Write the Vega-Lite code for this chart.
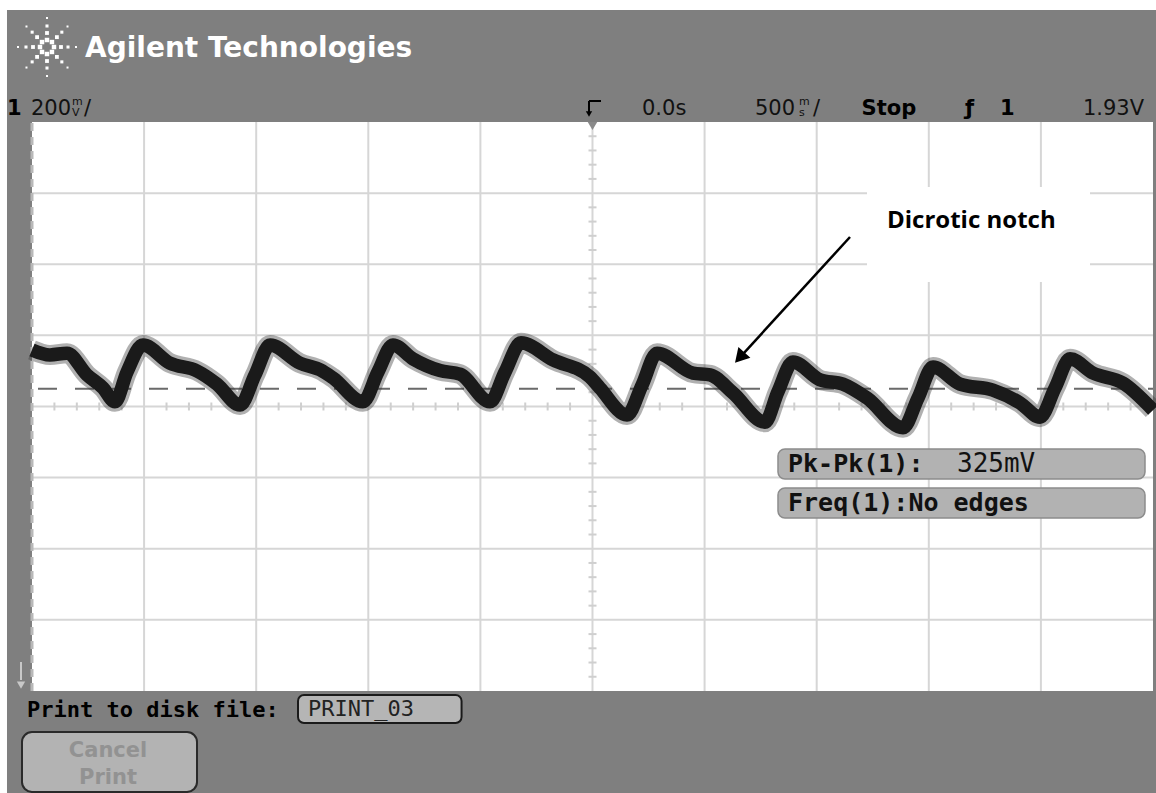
{
  "$schema": "https://vega.github.io/schema/vega-lite/v6.json",
  "width": 1156,
  "height": 793,
  "autosize": {"type": "none"},
  "padding": 0,
  "background": "#ffffff",
  "config": {"view": {"stroke": null}},
  "datasets": {
    "frame": [{"t": -2.6115, "t2": 2.5134, "v": 0.7931, "v2": 2.995}],
    "plot": [{"t": -2.5, "t2": 2.5, "v": 1.08, "v2": 2.68}],
    "gridT": [{"t": -2, "v": 1.08, "v2": 2.68}, {"t": -1.5, "v": 1.08, "v2": 2.68}, {"t": -1, "v": 1.08, "v2": 2.68}, {"t": -0.5, "v": 1.08, "v2": 2.68}, {"t": 0, "v": 1.08, "v2": 2.68}, {"t": 0.5, "v": 1.08, "v2": 2.68}, {"t": 1, "v": 1.08, "v2": 2.68}, {"t": 1.5, "v": 1.08, "v2": 2.68}, {"t": 2, "v": 1.08, "v2": 2.68}],
    "gridV": [{"t": -2.5, "t2": 2.5, "v": 1.28}, {"t": -2.5, "t2": 2.5, "v": 1.48}, {"t": -2.5, "t2": 2.5, "v": 1.68}, {"t": -2.5, "t2": 2.5, "v": 1.88}, {"t": -2.5, "t2": 2.5, "v": 2.08}, {"t": -2.5, "t2": 2.5, "v": 2.28}, {"t": -2.5, "t2": 2.5, "v": 2.48}],
    "hTicks": [{"t": -2.4, "v": 1.88}, {"t": -2.3, "v": 1.88}, {"t": -2.2, "v": 1.88}, {"t": -2.1, "v": 1.88}, {"t": -1.9, "v": 1.88}, {"t": -1.8, "v": 1.88}, {"t": -1.7, "v": 1.88}, {"t": -1.6, "v": 1.88}, {"t": -1.4, "v": 1.88}, {"t": -1.3, "v": 1.88}, {"t": -1.2, "v": 1.88}, {"t": -1.1, "v": 1.88}, {"t": -0.9, "v": 1.88}, {"t": -0.8, "v": 1.88}, {"t": -0.7, "v": 1.88}, {"t": -0.6, "v": 1.88}, {"t": -0.4, "v": 1.88}, {"t": -0.3, "v": 1.88}, {"t": -0.2, "v": 1.88}, {"t": -0.1, "v": 1.88}, {"t": 0.1, "v": 1.88}, {"t": 0.2, "v": 1.88}, {"t": 0.3, "v": 1.88}, {"t": 0.4, "v": 1.88}, {"t": 0.6, "v": 1.88}, {"t": 0.7, "v": 1.88}, {"t": 0.8, "v": 1.88}, {"t": 0.9, "v": 1.88}, {"t": 1.1, "v": 1.88}, {"t": 1.2, "v": 1.88}, {"t": 1.3, "v": 1.88}, {"t": 1.4, "v": 1.88}, {"t": 1.6, "v": 1.88}, {"t": 1.7, "v": 1.88}, {"t": 1.8, "v": 1.88}, {"t": 1.9, "v": 1.88}, {"t": 2.1, "v": 1.88}, {"t": 2.2, "v": 1.88}, {"t": 2.3, "v": 1.88}, {"t": 2.4, "v": 1.88}],
    "vTicks": [{"t": 0, "v": 1.12}, {"t": 0, "v": 1.16}, {"t": 0, "v": 1.2}, {"t": 0, "v": 1.24}, {"t": 0, "v": 1.32}, {"t": 0, "v": 1.36}, {"t": 0, "v": 1.4}, {"t": 0, "v": 1.44}, {"t": 0, "v": 1.52}, {"t": 0, "v": 1.56}, {"t": 0, "v": 1.6}, {"t": 0, "v": 1.64}, {"t": 0, "v": 1.72}, {"t": 0, "v": 1.76}, {"t": 0, "v": 1.8}, {"t": 0, "v": 1.84}, {"t": 0, "v": 1.92}, {"t": 0, "v": 1.96}, {"t": 0, "v": 2.0}, {"t": 0, "v": 2.04}, {"t": 0, "v": 2.12}, {"t": 0, "v": 2.16}, {"t": 0, "v": 2.2}, {"t": 0, "v": 2.24}, {"t": 0, "v": 2.32}, {"t": 0, "v": 2.36}, {"t": 0, "v": 2.4}, {"t": 0, "v": 2.44}, {"t": 0, "v": 2.52}, {"t": 0, "v": 2.56}, {"t": 0, "v": 2.6}, {"t": 0, "v": 2.64}],
    "leftEdge": [{"t": -2.5, "v": 1.08, "v2": 2.68}],
    "notchBox": [{"t": 1.2244, "t2": 2.219, "v": 2.2301, "v2": 2.4972}],
    "trigLevel": [{"t": -2.5, "t2": 2.5, "v": 1.93}],
    "trace": [
      {"t": -2.5, "v": 2.039}, {"t": -2.42, "v": 2.025}, {"t": -2.344, "v": 2.03}, {"t": -2.255, "v": 1.969}, {"t": -2.183, "v": 1.932}, {"t": -2.13, "v": 1.893}, {"t": -2.076, "v": 1.977}, {"t": -2.005, "v": 2.053},
      {"t": -1.885, "v": 2.002}, {"t": -1.764, "v": 1.98}, {"t": -1.675, "v": 1.943}, {"t": -1.572, "v": 1.884}, {"t": -1.505, "v": 1.969}, {"t": -1.438, "v": 2.053},
      {"t": -1.305, "v": 2.002}, {"t": -1.215, "v": 1.983}, {"t": -1.157, "v": 1.96}, {"t": -1.024, "v": 1.893}, {"t": -0.957, "v": 1.977}, {"t": -0.89, "v": 2.053},
      {"t": -0.801, "v": 2.014}, {"t": -0.68, "v": 1.981}, {"t": -0.591, "v": 1.971}, {"t": -0.457, "v": 1.893}, {"t": -0.39, "v": 1.977}, {"t": -0.319, "v": 2.059},
      {"t": -0.176, "v": 2.011}, {"t": -0.011, "v": 1.963}, {"t": 0.033, "v": 1.932}, {"t": 0.154, "v": 1.856}, {"t": 0.221, "v": 1.94}, {"t": 0.288, "v": 2.03},
      {"t": 0.448, "v": 1.974}, {"t": 0.524, "v": 1.969}, {"t": 0.627, "v": 1.918}, {"t": 0.769, "v": 1.836}, {"t": 0.827, "v": 1.921}, {"t": 0.894, "v": 2.005},
      {"t": 1.015, "v": 1.955}, {"t": 1.117, "v": 1.943}, {"t": 1.224, "v": 1.904}, {"t": 1.385, "v": 1.82}, {"t": 1.452, "v": 1.904}, {"t": 1.519, "v": 1.991},
      {"t": 1.639, "v": 1.943}, {"t": 1.786, "v": 1.926}, {"t": 1.907, "v": 1.89}, {"t": 1.996, "v": 1.85}, {"t": 2.063, "v": 1.932}, {"t": 2.13, "v": 2.014},
      {"t": 2.232, "v": 1.974}, {"t": 2.366, "v": 1.946}, {"t": 2.5, "v": 1.87}
    ],
    "measBoxes": [{"t": 0.8274, "t2": 2.4643, "v": 1.6761, "v2": 1.7605}, {"t": 0.8274, "t2": 2.4643, "v": 1.5664, "v2": 1.6508}],
    "measBold": [{"label": "Pk-Pk(1):", "t": 0.872, "v": 1.6958}, {"label": "Freq(1):No edges", "t": 0.872, "v": 1.5861}],
    "measReg": [{"label": "325mV", "t": 1.6258, "v": 1.6958}],
    "arrowLine": [{"t": 1.1486, "v": 2.3566, "t2": 0.6566, "v2": 2.0175}],
    "arrowHead": [{"t": 0.6566, "v": 2.0175}],
    "note": [{"label": "Dicrotic notch", "t": 1.3136, "v": 2.3819}],
    "brand": [{"label": "Agilent Technologies", "t": -2.2636, "v": 2.8628}],
    "spark": [
      {"t": -2.4019, "v": 2.8909, "ring": 1}, {"t": -2.4643, "v": 2.8909, "ring": 1}, {"t": -2.4331, "v": 2.9106, "ring": 1}, {"t": -2.4331, "v": 2.8712, "ring": 1},
      {"t": -2.411, "v": 2.9048, "ring": 1}, {"t": -2.4552, "v": 2.9048, "ring": 1}, {"t": -2.411, "v": 2.877, "ring": 1}, {"t": -2.4552, "v": 2.877, "ring": 1},
      {"t": -2.3707, "v": 2.8909, "ring": 2}, {"t": -2.4955, "v": 2.8909, "ring": 2}, {"t": -2.4331, "v": 2.9303, "ring": 2}, {"t": -2.4331, "v": 2.8515, "ring": 2},
      {"t": -2.3889, "v": 2.9187, "ring": 2}, {"t": -2.4773, "v": 2.9187, "ring": 2}, {"t": -2.3889, "v": 2.8631, "ring": 2}, {"t": -2.4773, "v": 2.8631, "ring": 2},
      {"t": -2.3394, "v": 2.8909, "ring": 3}, {"t": -2.5268, "v": 2.8909, "ring": 3}, {"t": -2.4331, "v": 2.95, "ring": 3}, {"t": -2.4331, "v": 2.8318, "ring": 3},
      {"t": -2.3669, "v": 2.9327, "ring": 3}, {"t": -2.4993, "v": 2.9327, "ring": 3}, {"t": -2.3669, "v": 2.8491, "ring": 3}, {"t": -2.4993, "v": 2.8491, "ring": 3},
      {"t": -2.3038, "v": 2.8909, "ring": 4}, {"t": -2.5624, "v": 2.8909, "ring": 4}, {"t": -2.4331, "v": 2.9725, "ring": 4}, {"t": -2.4331, "v": 2.8093, "ring": 4},
      {"t": -2.3416, "v": 2.9486, "ring": 4}, {"t": -2.5246, "v": 2.9486, "ring": 4}, {"t": -2.3416, "v": 2.8332, "ring": 4}, {"t": -2.5246, "v": 2.8332, "ring": 4}
    ],
    "statusReg": [
      {"label": "200", "t": -2.5044, "v": 2.6997}, {"label": "/", "t": -2.268, "v": 2.6997},
      {"label": "0.0s", "t": 0.2208, "v": 2.6997}, {"label": "500", "t": 0.7248, "v": 2.6997}, {"label": "/", "t": 0.9835, "v": 2.6997},
      {"label": "1.93V", "t": 2.1877, "v": 2.6997}
    ],
    "statusBold": [
      {"label": "1", "t": -2.6115, "v": 2.6997}, {"label": "Stop", "t": 1.2001, "v": 2.6997},
      {"label": "ƒ", "t": 1.6615, "v": 2.6997}, {"label": "1", "t": 1.8176, "v": 2.6997}
    ],
    "unitSmall": [
      {"label": "m", "t": -2.3216, "v": 2.7278}, {"label": "V", "t": -2.3216, "v": 2.6969},
      {"label": "m", "t": 0.9211, "v": 2.7278}, {"label": "s", "t": 0.9211, "v": 2.6969}
    ],
    "trigMarkLines": [{"t": -0.0156, "t2": -0.0156, "v": 2.7391, "v2": 2.7081}, {"t": -0.0156, "t2": 0.0379, "v": 2.7391, "v2": 2.7391}],
    "trigMarkHead": [{"t": -0.0156, "v": 2.7025}],
    "plotMarker": [{"t": 0, "v": 2.6688}],
    "offsetLine": [{"t": -2.549, "t2": -2.549, "v": 1.1615, "v2": 1.1109}],
    "offsetHead": [{"t": -2.549, "v": 1.0968}],
    "printBox": [{"t": -1.3135, "t2": -0.584, "v": 0.9899, "v2": 1.0687}],
    "printLabel": [{"label": "Print to disk file:", "t": -2.5223, "v": 1.0068}],
    "fileName": [{"label": "PRINT_03", "t": -1.2689, "v": 1.0096}],
    "cancelBox": [{"t": -2.5446, "t2": -1.764, "v": 0.7959, "v2": 0.9646}],
    "cancelText": [{"label": "Cancel", "t": -2.161, "v": 0.8943}, {"label": "Print", "t": -2.161, "v": 0.8184}]
  },
  "encoding": {
    "x": {"field": "t", "type": "quantitative", "scale": {"domain": [-2.6427, 2.5134], "nice": false, "zero": false}, "axis": null},
    "y": {"field": "v", "type": "quantitative", "scale": {"domain": [0.7931, 3.0231], "nice": false, "zero": false}, "axis": null}
  },
  "layer": [
    {"data": {"name": "frame"}, "mark": {"type": "rect", "fill": "#7f7f7f"}, "encoding": {"x2": {"field": "t2"}, "y2": {"field": "v2"}}},
    {"data": {"name": "plot"}, "mark": {"type": "rect", "fill": "#ffffff"}, "encoding": {"x2": {"field": "t2"}, "y2": {"field": "v2"}}},
    {"data": {"name": "gridT"}, "mark": {"type": "rule", "stroke": "#d6d6d6", "strokeWidth": 2}, "encoding": {"y2": {"field": "v2"}}},
    {"data": {"name": "gridV"}, "mark": {"type": "rule", "stroke": "#d6d6d6", "strokeWidth": 2}, "encoding": {"x2": {"field": "t2"}}},
    {"data": {"name": "hTicks"}, "mark": {"type": "tick", "orient": "vertical", "color": "#cfcfcf", "size": 8, "thickness": 2, "opacity": 1}},
    {"data": {"name": "vTicks"}, "mark": {"type": "tick", "orient": "horizontal", "color": "#cfcfcf", "size": 8, "thickness": 2, "opacity": 1}},
    {"data": {"name": "leftEdge"}, "mark": {"type": "rule", "stroke": "#b8b8b8", "strokeWidth": 3, "strokeDash": [8, 6]}, "encoding": {"y2": {"field": "v2"}}},
    {"data": {"name": "notchBox"}, "mark": {"type": "rect", "fill": "#ffffff"}, "encoding": {"x2": {"field": "t2"}, "y2": {"field": "v2"}}},
    {"data": {"name": "trigLevel"}, "mark": {"type": "rule", "stroke": "#6a6a6a", "strokeWidth": 2, "strokeDash": [19, 18], "strokeDashOffset": 31}, "encoding": {"x2": {"field": "t2"}}},
    {"data": {"name": "trace"}, "mark": {"type": "line", "stroke": "#3a3a3a", "strokeWidth": 20, "opacity": 0.4, "interpolate": "monotone", "strokeJoin": "round", "strokeCap": "butt"}, "encoding": {"order": {"field": "t", "type": "quantitative"}}},
    {"data": {"name": "trace"}, "mark": {"type": "line", "stroke": "#1a1a1a", "strokeWidth": 13.5, "interpolate": "monotone", "strokeJoin": "round", "strokeCap": "butt"}, "encoding": {"order": {"field": "t", "type": "quantitative"}}},
    {"data": {"name": "measBoxes"}, "mark": {"type": "rect", "fill": "#b2b2b2", "stroke": "#8c8c8c", "strokeWidth": 1.5, "cornerRadius": 7}, "encoding": {"x2": {"field": "t2"}, "y2": {"field": "v2"}}},
    {"data": {"name": "measBold"}, "mark": {"type": "text", "font": "DejaVu Sans Mono", "fontWeight": "bold", "fontSize": 25, "align": "left", "baseline": "alphabetic", "fill": "#111111"}, "encoding": {"text": {"field": "label"}}},
    {"data": {"name": "measReg"}, "mark": {"type": "text", "font": "DejaVu Sans Mono", "fontSize": 26, "align": "left", "baseline": "alphabetic", "fill": "#111111"}, "encoding": {"text": {"field": "label"}}},
    {"data": {"name": "arrowLine"}, "mark": {"type": "rule", "stroke": "#000000", "strokeWidth": 2.5}, "encoding": {"x2": {"field": "t2"}, "y2": {"field": "v2"}}},
    {"data": {"name": "arrowHead"}, "mark": {"type": "point", "shape": "triangle-up", "filled": true, "fill": "#000000", "size": 260, "angle": 222, "opacity": 1}},
    {"data": {"name": "note"}, "mark": {"type": "text", "font": "Open Sans", "fontWeight": "bold", "fontSize": 24, "align": "left", "baseline": "alphabetic", "fill": "#000000"}, "encoding": {"text": {"field": "label"}}},
    {"data": {"name": "brand"}, "mark": {"type": "text", "font": "DejaVu Sans", "fontWeight": "bold", "fontSize": 28, "align": "left", "baseline": "alphabetic", "fill": "#ffffff"}, "encoding": {"text": {"field": "label"}}},
    {"data": {"name": "spark"}, "mark": {"type": "point", "shape": "square", "filled": true, "fill": "#ffffff", "opacity": 1}, "encoding": {"size": {"field": "ring", "type": "quantitative", "scale": {"domain": [1, 4], "range": [20, 4]}, "legend": null}}},
    {"data": {"name": "statusReg"}, "mark": {"type": "text", "font": "DejaVu Sans", "fontSize": 21, "align": "left", "baseline": "alphabetic", "fill": "#111111"}, "encoding": {"text": {"field": "label"}}},
    {"data": {"name": "statusBold"}, "mark": {"type": "text", "font": "DejaVu Sans", "fontWeight": "bold", "fontSize": 21, "align": "left", "baseline": "alphabetic", "fill": "#000000"}, "encoding": {"text": {"field": "label"}}},
    {"data": {"name": "unitSmall"}, "mark": {"type": "text", "font": "DejaVu Sans", "fontSize": 11, "align": "left", "baseline": "alphabetic", "fill": "#111111"}, "encoding": {"text": {"field": "label"}}},
    {"data": {"name": "trigMarkLines"}, "mark": {"type": "rule", "stroke": "#000000", "strokeWidth": 2}, "encoding": {"x2": {"field": "t2"}, "y2": {"field": "v2"}}},
    {"data": {"name": "trigMarkHead"}, "mark": {"type": "point", "shape": "triangle-down", "filled": true, "fill": "#000000", "size": 40, "opacity": 1}},
    {"data": {"name": "plotMarker"}, "mark": {"type": "point", "shape": "triangle-down", "filled": true, "fill": "#8a8a8a", "size": 90, "opacity": 1}},
    {"data": {"name": "offsetLine"}, "mark": {"type": "rule", "stroke": "#c8c8c8", "strokeWidth": 2}, "encoding": {"x2": {"field": "t2"}, "y2": {"field": "v2"}}},
    {"data": {"name": "offsetHead"}, "mark": {"type": "point", "shape": "triangle-down", "filled": true, "fill": "#c8c8c8", "size": 70, "opacity": 1}},
    {"data": {"name": "printBox"}, "mark": {"type": "rect", "fill": "#b5b5b5", "stroke": "#1a1a1a", "strokeWidth": 2, "cornerRadius": 6}, "encoding": {"x2": {"field": "t2"}, "y2": {"field": "v2"}}},
    {"data": {"name": "printLabel"}, "mark": {"type": "text", "font": "DejaVu Sans Mono", "fontWeight": "bold", "fontSize": 22, "align": "left", "baseline": "alphabetic", "fill": "#000000"}, "encoding": {"text": {"field": "label"}}},
    {"data": {"name": "fileName"}, "mark": {"type": "text", "font": "DejaVu Sans Mono", "fontSize": 22, "align": "left", "baseline": "alphabetic", "fill": "#222222"}, "encoding": {"text": {"field": "label"}}},
    {"data": {"name": "cancelBox"}, "mark": {"type": "rect", "fill": "#b3b3b3", "stroke": "#2a2a2a", "strokeWidth": 2, "cornerRadius": 10}, "encoding": {"x2": {"field": "t2"}, "y2": {"field": "v2"}}},
    {"data": {"name": "cancelText"}, "mark": {"type": "text", "font": "DejaVu Sans", "fontWeight": "bold", "fontSize": 21, "align": "center", "baseline": "alphabetic", "fill": "#929292"}, "encoding": {"text": {"field": "label"}}}
  ]
}
